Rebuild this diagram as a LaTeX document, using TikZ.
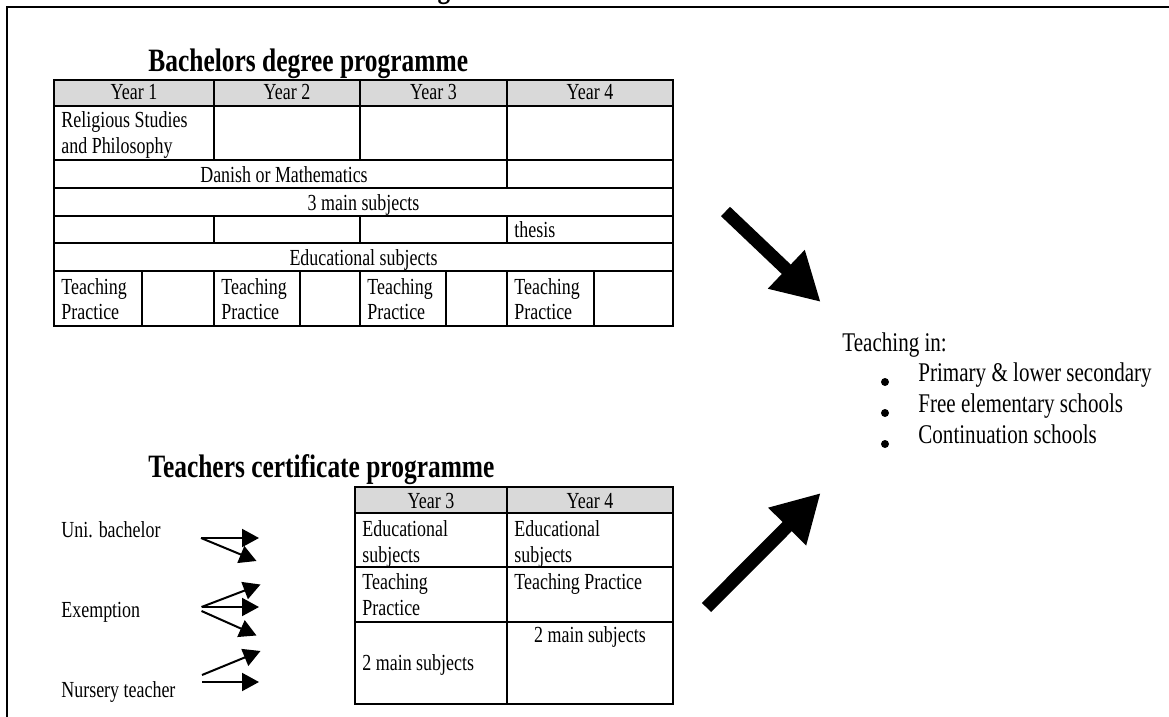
\documentclass[tikz,border=0pt]{standalone}
\usepackage{fontspec}
\setmainfont{Liberation Serif}[FakeStretch=0.78]
\usetikzlibrary{arrows.meta}
\definecolor{headgray}{gray}{0.85}

\begin{document}
\begin{tikzpicture}[x=0.5pt,y=-0.5pt,
    celltext/.style={inner sep=0pt, font=\fontsize{11.5}{13}\selectfont},
    sidetext/.style={inner sep=0pt, font=\fontsize{13.5}{15.5}\selectfont},
    titletext/.style={inner sep=0pt, font=\fontsize{16.3}{18}\selectfont\bfseries},
    tabline/.style={line width=0.7pt},
    tabframe/.style={line width=1.1pt},
    thinarrow/.style={line width=1pt, -{Triangle[length=8.5pt,width=9pt]}},
    bigarrow/.style={line width=6.5pt, -{Triangle[length=23.75pt,width=25pt]}}]

        \useasboundingbox (0,0) rectangle (1169,717);
        \draw[line width=1.1pt] (7,730) -- (7,7) -- (1180,7);
        \node[titletext,anchor=base] (cut) at (444,-2) {g};

        % bachelors table
        \node[titletext,anchor=base west] (bachtitle) at (148,72) {Bachelors degree programme};
        \fill[headgray] (54,80) rectangle (673,106);
        \foreach \y in {106,160,188,216,243,271}
            \draw[tabline] (54,\y) -- (673,\y);
        \draw[tabline] (214,80) -- (214,160) (360,80) -- (360,160) (507,80) -- (507,188);
        \draw[tabline] (214,216) -- (214,243) (360,216) -- (360,243) (507,216) -- (507,243);
        \foreach \x in {142,214,300,360,446,507,594}
            \draw[tabline] (\x,271) -- (\x,326);
        \draw[tabframe] (54,80) rectangle (673,326);

        \node[celltext,anchor=base] (byear1) at (134,100) {Year 1};
        \node[celltext,anchor=base] (byear2) at (287,100) {Year 2};
        \node[celltext,anchor=base] (byear3) at (433.5,100) {Year 3};
        \node[celltext,anchor=base] (byear4) at (590,100) {Year 4};
        \node[celltext,anchor=base west,align=left] (relig) at (61,154) {Religious Studies\\and Philosophy};
        \node[celltext,anchor=base] (danish) at (284,183) {Danish or Mathematics};
        \node[celltext,anchor=base] (main3) at (363.5,211) {3 main subjects};
        \node[celltext,anchor=base west] (thesis) at (514,238) {thesis};
        \node[celltext,anchor=base] (bedu) at (363.5,265) {Educational subjects};
        \node[celltext,anchor=base west,align=left] (tp1) at (61,320) {Teaching\\Practice};
        \node[celltext,anchor=base west,align=left] (tp2) at (221,320) {Teaching\\Practice};
        \node[celltext,anchor=base west,align=left] (tp3) at (367,320) {Teaching\\Practice};
        \node[celltext,anchor=base west,align=left] (tp4) at (514,320) {Teaching\\Practice};

        % certificate table
        \node[titletext,anchor=base west] (certtitle) at (148,477) {Teachers certificate programme};
        \fill[headgray] (355,487) rectangle (673,513);
        \foreach \y in {513,567,622}
            \draw[tabline] (355,\y) -- (673,\y);
        \draw[tabline] (507,487) -- (507,704);
        \draw[tabframe] (355,487) rectangle (673,704);

        \node[celltext,anchor=base] (cyear3) at (431,508) {Year 3};
        \node[celltext,anchor=base] (cyear4) at (590,508) {Year 4};
        \node[celltext,anchor=base west,align=left] (cedu3) at (362,562) {Educational\\subjects};
        \node[celltext,anchor=base west,align=left] (cedu4) at (514,562) {Educational\\subjects};
        \node[celltext,anchor=base west,align=left] (ctp3) at (362,615) {Teaching\\Practice};
        \node[celltext,anchor=base west] (ctp4) at (514,589) {Teaching Practice};
        \node[celltext,anchor=base west] (cmain3) at (362,670) {2 main subjects};
        \node[celltext,anchor=base] (cmain4) at (590,642) {2 main subjects};

        % entry routes
        \node[celltext,anchor=base west] (uni) at (61,537) {Uni. bachelor};
        \node[celltext,anchor=base west] (exempt) at (61,617) {Exemption};
        \node[celltext,anchor=base west] (nursery) at (61,697) {Nursery teacher};

        \coordinate (uniS) at (201,538);
        \coordinate (uniA) at (259,538);
        \coordinate (uniB) at (256.5,561);
        \draw[thinarrow] (uniS) -- (uniA);
        \draw[thinarrow] (uniS) -- (uniB);

        \coordinate (exS) at (201.5,607);
        \coordinate (exT) at (201.5,611);
        \coordinate (exA) at (260.5,584.5);
        \coordinate (exB) at (259,607);
        \coordinate (exC) at (256.5,635.5);
        \draw[thinarrow] (exS) -- (exA);
        \draw[thinarrow] (exS) -- (exB);
        \draw[thinarrow] (exT) -- (exC);

        \coordinate (nuS) at (202,675);
        \coordinate (nuT) at (202,682);
        \coordinate (nuA) at (260.5,651);
        \coordinate (nuB) at (259,682);
        \draw[thinarrow] (nuS) -- (nuA);
        \draw[thinarrow] (nuT) -- (nuB);

        % where they teach
        \node[sidetext,anchor=base west] (tin) at (842,351) {Teaching in:};
        \fill (885,382) circle (4);
        \fill (885,413) circle (4);
        \fill (885,444) circle (4);
        \node[sidetext,anchor=base west] (prim) at (918,381) {Primary \& lower secondary};
        \node[sidetext,anchor=base west] (free) at (918,412.5) {Free elementary schools};
        \node[sidetext,anchor=base west] (cont) at (918,443.5) {Continuation schools};

        \coordinate (bachend) at (725.5,211.5);
        \coordinate (tin1) at (820.7,302);
        \draw[bigarrow] (bachend) -- (tin1);
        \coordinate (certend) at (706.5,607.5);
        \coordinate (tin2) at (820.7,493);
        \draw[bigarrow] (certend) -- (tin2);

\end{tikzpicture}
\end{document}
